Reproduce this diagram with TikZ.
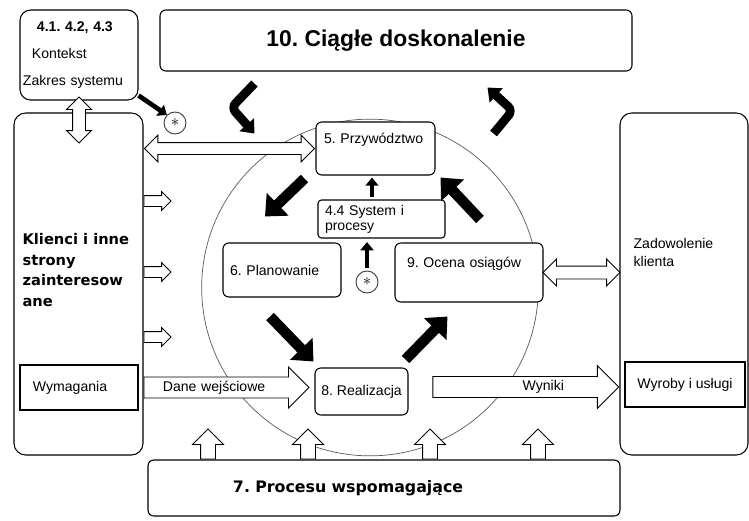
\documentclass[tikz,border=0pt]{standalone}
\usepackage{fontspec}
\setmainfont{Liberation Sans}
\newfontfamily\dejavu{DejaVu Sans}
\usetikzlibrary{arrows.meta,shapes.arrows,positioning,calc}
\frenchspacing
\newcommand{\lab}{\fontsize{12}{14}\selectfont}
\tikzset{box/.style={draw, fill=white, line width=.9pt, rounded corners=5pt, font=\lab, inner ysep=2pt}}
\tikzset{sharp box/.style={box, rounded corners=0pt}}
\tikzset{
	hollow/.style={single arrow, draw, fill=white, line width=.8pt, inner xsep=0pt, text height=0pt, text depth=0pt},
	twoway/.style={double arrow, draw, fill=white, line width=.8pt, inner xsep=0pt, text height=0pt, text depth=0pt},
	flow/.style={line width=9pt, -{Triangle[length=15pt,width=26pt]}},
	small flow/.style={line width=4pt, -{Triangle[length=7pt,width=11pt]}},
	turn/.style={line width=7.5pt, rounded corners=5pt, -{Triangle[length=10pt,width=16pt]}},
	star/.style={circle, draw=black!75, line width=.8pt, fill=white, minimum size=.66cm, inner sep=0pt, font=\Large}
}

\begin{document}
\begin{tikzpicture}[x=0.03cm, y=-0.03cm]
	\useasboundingbox (0,0) rectangle (749,520);
	\node[circle, draw=black!65, semithick, minimum size=10.1cm] (cycle) at (370,287.5) {};
	% outer boxes
	\node[box, rounded corners=9pt, minimum width=3.54cm, minimum height=2.7cm, text width=3.36cm, inner xsep=.09cm, align=left] (ctx) at (79,55) {\hspace{.42cm}\textbf{4.1. 4.2, 4.3}\\[9pt]\hspace{.27cm}Kontekst\\[9pt]Zakres systemu};
	\node[box, minimum width=14.16cm, minimum height=1.83cm, font=\fontsize{19.5}{22}\selectfont\bfseries] (top) at (396,40.5) {10. Ciągłe doskonalenie};
	\node[box, rounded corners=10pt, minimum width=3.87cm, minimum height=10.26cm, label={[anchor=west, align=left, font=\dejavu\bfseries\fontsize{12.5}{17.5}\selectfont, xshift=.15cm, yshift=12pt]west:Klienci i inne\\strony\\zainteresow\\ane}] (cust) at (78.5,284) {};
	\node[sharp box, minimum width=3.54cm, minimum height=1.35cm, text width=2.76cm, inner xsep=.39cm, align=left] (req) at (79,387.5) {Wymagania};
	\node[box, rounded corners=10pt, minimum width=3.84cm, minimum height=10.26cm, label={[anchor=west, align=left, font=\fontsize{12}{15}\selectfont, xshift=.3cm, yshift=27pt]west:Zadowolenie\\klienta}] (sat) at (684,284) {};
	\node[sharp box, minimum width=3.6cm, minimum height=1.35cm] (prod) at (685,384.5) {Wyroby i usługi};
	\node[box, minimum width=14.16cm, minimum height=1.68cm, text width=9.06cm, inner xsep=2.55cm, align=left, font=\dejavu\bfseries\fontsize{13.5}{16}\selectfont] (supp) at (384,488) {7. Procesu wspomagające};
	% cycle
	\node[box, minimum width=3.57cm, minimum height=1.59cm, text width=3.29cm, inner xsep=.14cm, align=left] (lead) at (375.5,148.5) {\hspace{.1cm}5. Przywództwo\\[3pt]\mbox{}};
	\node[box, rounded corners=3pt, minimum width=3.81cm, minimum height=1.14cm, text width=3.39cm, inner xsep=.21cm, align=left, font=\fontsize{12}{13}\selectfont] (sys) at (381.5,219) {4.4 System i\\procesy};
	\node[box, minimum width=3.54cm, minimum height=1.62cm, text width=3.12cm, inner xsep=.21cm, align=left] (plan) at (282,270) {6. Planowanie};
	\node[box, minimum width=4.44cm, minimum height=1.77cm, text width=3.72cm, inner xsep=.36cm, align=left] (eval) at (469,272.5) {9. Ocena osiągów\\[3pt]\mbox{}};
	\node[box, minimum width=2.79cm, minimum height=1.41cm] (real) at (361.5,391.5) {8. Realizacja};
	\node[star] (star1) at (175,123) {$\ast$};
	\node[star] (star2) at (367,282) {$\ast$};
	% hollow arrows
	\node[twoway, rotate=90, minimum height=1.38cm, inner ysep=.18cm, double arrow head extend=.18cm] (link) at (79,120) {};
	\node[twoway, minimum height=5.1cm, inner ysep=.165cm, double arrow head extend=.225cm] (talk) at ($(cust.east |- lead.west)!.5!(lead.west)$) {};
	\node[twoway, minimum height=2.31cm, inner ysep=.18cm, double arrow head extend=.21cm] (fb) at ($(eval.east)!.5!(sat.west |- eval.east)$) {};
	\foreach \y/\n in {201/a,272/b,337/c}
		\node[hollow, minimum height=.81cm, inner ysep=.15cm, single arrow head extend=.12cm, anchor=tail] (need\n) at (cust.east |- 0,\y) {};
	\foreach \x/\n in {208/a,308/b,430/c,538/d}
		\node[hollow, rotate=90, minimum height=.9cm, inner ysep=.21cm, single arrow head extend=.24cm, anchor=tail] (aid\n) at (\x,0 |- supp.north) {};
	\node[hollow, font=\lab, text height=9pt, text depth=2.5pt, inner ysep=2.8pt, minimum height=4.95cm, single arrow head extend=.3cm, anchor=tail, text width=3.5cm, align=left, inner xsep=.3cm] (inp) at (cust.east |- req.east) {Dane wejściowe};
	\node[hollow, font=\lab, text height=9pt, text depth=2.5pt, inner ysep=2.8pt, minimum height=5.58cm, single arrow head extend=.33cm, anchor=tip, text width=2.6cm, align=right, inner xsep=.3cm] (res) at (sat.west |- 0,387) {Wyniki};
	% black arrows
	\draw[flow] ($(lead.south west)+(-11,3)$) -- ($(plan.north)+(-17,-26)$);
	\draw[flow] ($(plan.south)+(-12,19)$) -- ($(real.north west)+(-1,-6)$);
	\draw[flow] ($(real.north east)+(-3,-8)$) -- ($(eval.south west)+(53,14)$);
	\draw[flow] ($(eval.north)+(11,-23)$) -- ($(lead.south east)+(5,2)$);
	\draw[small flow] ($(sys.north)+(-9.5,-2)$) -- ($(lead.south)+(-3.5,2)$);
	\draw[small flow, shorten >=3pt] ($(star2.north)+(0,-3)$) -- (star2.north |- sys.south);
	\draw[small flow] ($(ctx.south east)+(0,-5)$) -- (star1.north west);
	\draw[turn] ($(top.south west)+(95,12)$) -- ($(top.south west)+(72,36)$) -- ($(top.south west)+(95,62)$);
	\draw[turn] ($(top.south east)+(-139,62)$) -- ($(top.south east)+(-120,39)$) -- ($(top.south east)+(-145,16)$);
\end{tikzpicture}
\end{document}
